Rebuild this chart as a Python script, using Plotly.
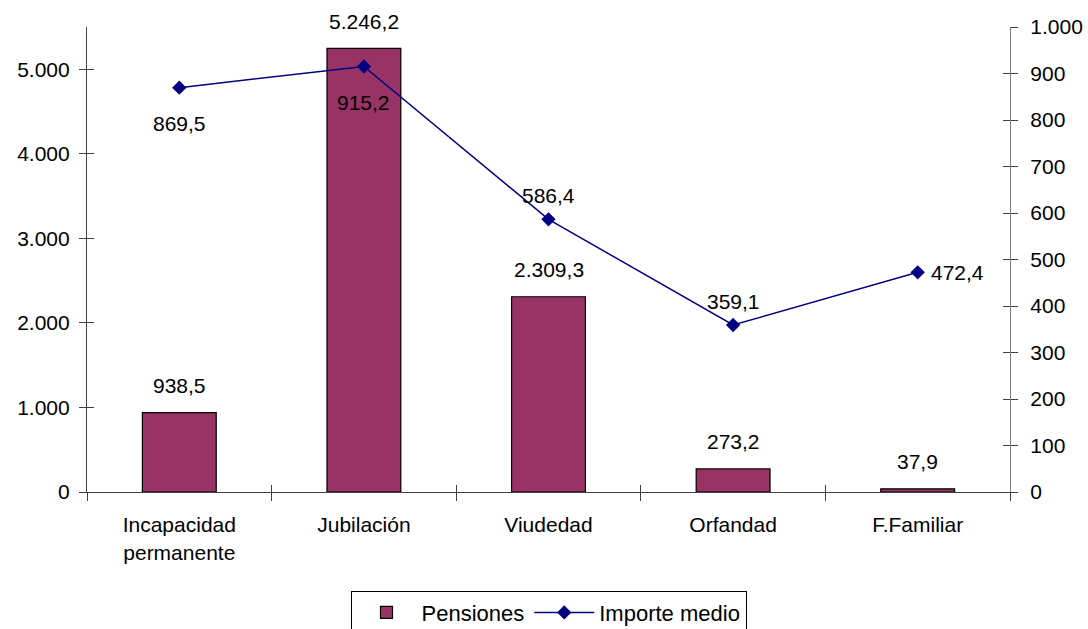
import plotly.graph_objects as go

# Pensiones (miles) e importe medio (euros) por clase de pensión
categorias = ["Incapacidad<br>permanente", "Jubilación", "Viudedad", "Orfandad", "F.Familiar"]
pensiones = [938.5, 5246.2, 2309.3, 273.2, 37.9]
importe_medio = [869.5, 915.2, 586.4, 359.1, 472.4]

ticks_izq = [0, 1000, 2000, 3000, 4000, 5000]
ticks_der = [0, 100, 200, 300, 400, 500, 600, 700, 800, 900, 1000]

# where each average-amount label sits relative to its marker
pos_etiqueta_linea = ["below", "below", "above", "above", "right"]

FONT = "Liberation Sans, Arial, sans-serif"
FS = 21
AXC = "#404040"


def es_num(v, dec=1):
    s = f"{v:,.{dec}f}"
    return s.replace(",", "X").replace(".", ",").replace("X", ".")


fig = go.Figure()

fig.add_trace(go.Bar(
    x=categorias, y=pensiones, name="Pensiones",
    marker=dict(color="#993366", line=dict(color="#000000", width=1.2)),
    width=0.4, yaxis="y", xaxis="x",
))

fig.add_trace(go.Scatter(
    x=categorias, y=importe_medio, name="Importe medio",
    mode="lines+markers",
    line=dict(color="#000080", width=1.5),
    marker=dict(symbol="diamond", size=11, color="#000080"),
    yaxis="y2", xaxis="x",
))

# invisible companions so the overlay tick axes (cross ticks) get drawn
idx = list(range(len(categorias)))
fig.add_trace(go.Scatter(x=idx, y=pensiones, xaxis="x3", yaxis="y3",
                         mode="markers", marker=dict(opacity=0),
                         showlegend=False, hoverinfo="skip"))
fig.add_trace(go.Scatter(x=categorias, y=importe_medio, xaxis="x", yaxis="y4",
                         mode="markers", marker=dict(opacity=0),
                         showlegend=False, hoverinfo="skip"))

annotations = []
for c, v in zip(categorias, pensiones):
    annotations.append(dict(
        x=c, y=v, xref="x", yref="y", text=es_num(v),
        showarrow=False, yanchor="middle", yshift=27,
        font=dict(family=FONT, size=FS, color="#000000"),
    ))

for c, v, p in zip(categorias, importe_medio, pos_etiqueta_linea):
    a = dict(x=c, y=v, xref="x", yref="y2", text=es_num(v), showarrow=False,
             font=dict(family=FONT, size=FS, color="#000000"))
    if p == "below":
        a.update(yanchor="middle", yshift=-36)
    elif p == "above":
        a.update(yanchor="middle", yshift=24)
    else:
        a.update(xanchor="left", yanchor="middle", xshift=11)
    annotations.append(a)

axis_font = dict(family=FONT, size=FS, color="#000000")

fig.update_layout(
    width=1088, height=629,
    margin=dict(l=87, r=78, t=27, b=137, autoexpand=False),
    paper_bgcolor="white", plot_bgcolor="white",
    separators=",.",
    font=dict(family=FONT, size=FS, color="#000000"),
    showlegend=True,
    legend=dict(
        orientation="h", x=0.5, xanchor="center", y=-0.212, yanchor="top",
        bordercolor="#000000", borderwidth=1, bgcolor="white",
        font=dict(family=FONT, size=22), itemwidth=60,
    ),
    xaxis=dict(
        type="category", showgrid=False, zeroline=False,
        showline=True, linecolor=AXC, linewidth=1.2,
        ticks="outside", ticklen=8, tickcolor=AXC, tickwidth=1.2,
        tickson="boundaries", tickfont=axis_font, ticklabelstandoff=14,
        range=[-0.5, 4.5],
    ),
    # overlay axis drawing the upper half of the category boundary ticks
    xaxis3=dict(
        type="linear", overlaying="x", anchor="y3", side="bottom", range=[-0.5, 4.5],
        tickvals=[0.5, 1.5, 2.5, 3.5], showticklabels=False,
        ticks="inside", ticklen=7, tickcolor=AXC, tickwidth=1.2,
        showgrid=False, zeroline=False, showline=False,
    ),
    yaxis=dict(
        range=[0, 5500], tickvals=ticks_izq, tickformat=",d",
        showgrid=False, zeroline=False,
        showline=True, linecolor=AXC, linewidth=1.2,
        ticks="outside", ticklen=7, tickcolor=AXC, tickwidth=1.2,
        tickfont=axis_font, ticklabelstandoff=5,
    ),
    yaxis3=dict(
        overlaying="y", anchor="x3", side="left", range=[0, 5500],
        tickvals=ticks_izq, showticklabels=False,
        ticks="inside", ticklen=7, tickcolor=AXC, tickwidth=1.2,
        showgrid=False, zeroline=False, showline=False,
    ),
    yaxis2=dict(
        overlaying="y", side="right", anchor="x", range=[0, 1000],
        tickvals=ticks_der, tickformat=",d",
        showgrid=False, zeroline=False,
        showline=True, linecolor="#808080", linewidth=1.2,
        ticks="outside", ticklen=7, tickcolor=AXC, tickwidth=1.2,
        tickfont=axis_font, ticklabelstandoff=8,
    ),
    yaxis4=dict(
        overlaying="y", anchor="x", side="right", range=[0, 1000],
        tickvals=ticks_der, showticklabels=False,
        ticks="inside", ticklen=7, tickcolor=AXC, tickwidth=1.2,
        showgrid=False, zeroline=False, showline=False,
    ),
    annotations=annotations,
)

fig.write_html("out.html")
